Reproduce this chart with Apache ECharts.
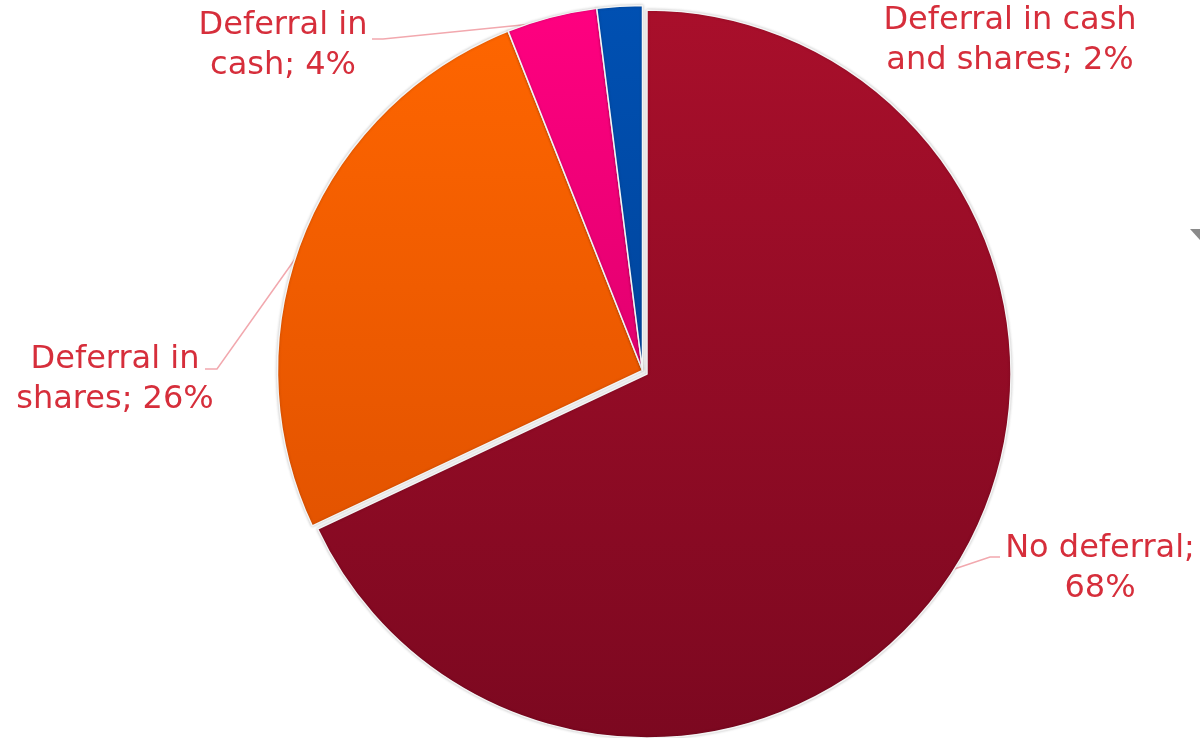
<!DOCTYPE html>
<html>
<head>
<meta charset="utf-8">
<script src="https://cdn.jsdelivr.net/npm/echarts@6/dist/echarts.min.js"></script>
<style>
html,body{margin:0;padding:0;background:#fff;}
#chart{width:1200px;height:738px;}
</style>
</head>
<body>
<div id="chart"></div>
<script>
// ---- data ----
const categories = ['No deferral', 'Deferral in shares', 'Deferral in cash', 'Deferral in cash and shares'];
const shares = [68, 26, 4, 2];
// where each label wraps onto its second line
const wrapAfter = ['No deferral;', 'Deferral in', 'Deferral in', 'Deferral in cash'];

// ---- style ----
const gradTop = ['#A90F2B', '#FF6600', '#FF0080', '#0050B2'];
const gradBottom = ['#7C0820', '#D84C00', '#C4005E', '#003A88'];
// label anchors (centre of text block) and label line elbows
const labelPos = [
  {x: 1100, y: 569, elbow: [[990, 557], [1000, 557]]},
  {x: 115, y: 380, elbow: [[217, 369], [205, 369]]},
  {x: 283, y: 46, elbow: [[383, 39], [372, 39]]},
  {x: 1010, y: 41, elbow: null}
];

const chart = echarts.init(document.getElementById('chart'));
const grad = i => ({
  type: 'linear', global: true, x: 0, y: 5, x2: 0, y2: 740,
  colorStops: [{offset: 0, color: gradTop[i]}, {offset: 1, color: gradBottom[i]}]
});
const sliceStyle = {
  borderColor: '#f4f4f4',
  borderWidth: 1.5,
  shadowBlur: 3,
  shadowColor: 'rgba(0,0,0,0.22)'
};
// series A: the main slice + all labels; series B: the smaller slices, pulled slightly out
const dataA = categories.map((name, i) => ({
  name, value: shares[i],
  itemStyle: i === 0 ? {color: grad(i)} : {color: 'rgba(0,0,0,0)', borderWidth: 0, shadowBlur: 0},
  labelLine: {show: labelPos[i].elbow !== null}
}));
const dataB = categories.map((name, i) => ({
  name, value: shares[i],
  itemStyle: i !== 0 ? {color: grad(i)} : {color: 'rgba(0,0,0,0)', borderWidth: 0, shadowBlur: 0}
}));

chart.setOption({
  animation: false,
  backgroundColor: '#fff',
  graphic: [{
    type: 'polygon',
    shape: {points: [[1190, 229], [1200, 229], [1200, 240]]},
    style: {fill: '#8a8a8a'}
  }],
  series: [{
    type: 'pie',
    center: [642.5, 370.5],
    radius: 365,
    startAngle: 90,
    clockwise: true,
    silent: true,
    data: dataB,
    itemStyle: sliceStyle,
    label: {show: false},
    labelLine: {show: false},
    emphasis: {disabled: true}
  }, {
    type: 'pie',
    center: [647, 374],
    radius: 364,
    startAngle: 90,
    clockwise: true,
    data: dataA,
    itemStyle: sliceStyle,
    label: {
      show: true,
      position: 'outside',
      color: '#D62E3B',
      fontFamily: 'DejaVu Sans',
      fontSize: 32,
      lineHeight: 40,
      align: 'center',
      overflow: 'none',
      formatter: p => {
        const full = p.name + '; ' + p.value + '%';
        const w = wrapAfter[p.dataIndex];
        return full.startsWith(w) ? w + '\n' + full.slice(w.length).trim() : full;
      }
    },
    labelLine: {
      show: true,
      lineStyle: {color: '#F2A8AE', width: 1.5}
    },
    emphasis: {disabled: true},
    labelLayout: params => {
      const lp = labelPos[params.dataIndex];
      const out = {x: lp.x, y: lp.y, align: 'center', verticalAlign: 'middle'};
      if (lp.elbow && params.labelLinePoints) {
        out.labelLinePoints = [params.labelLinePoints[0], lp.elbow[0], lp.elbow[1]];
      }
      return out;
    }
  }]
});
</script>
</body>
</html>
